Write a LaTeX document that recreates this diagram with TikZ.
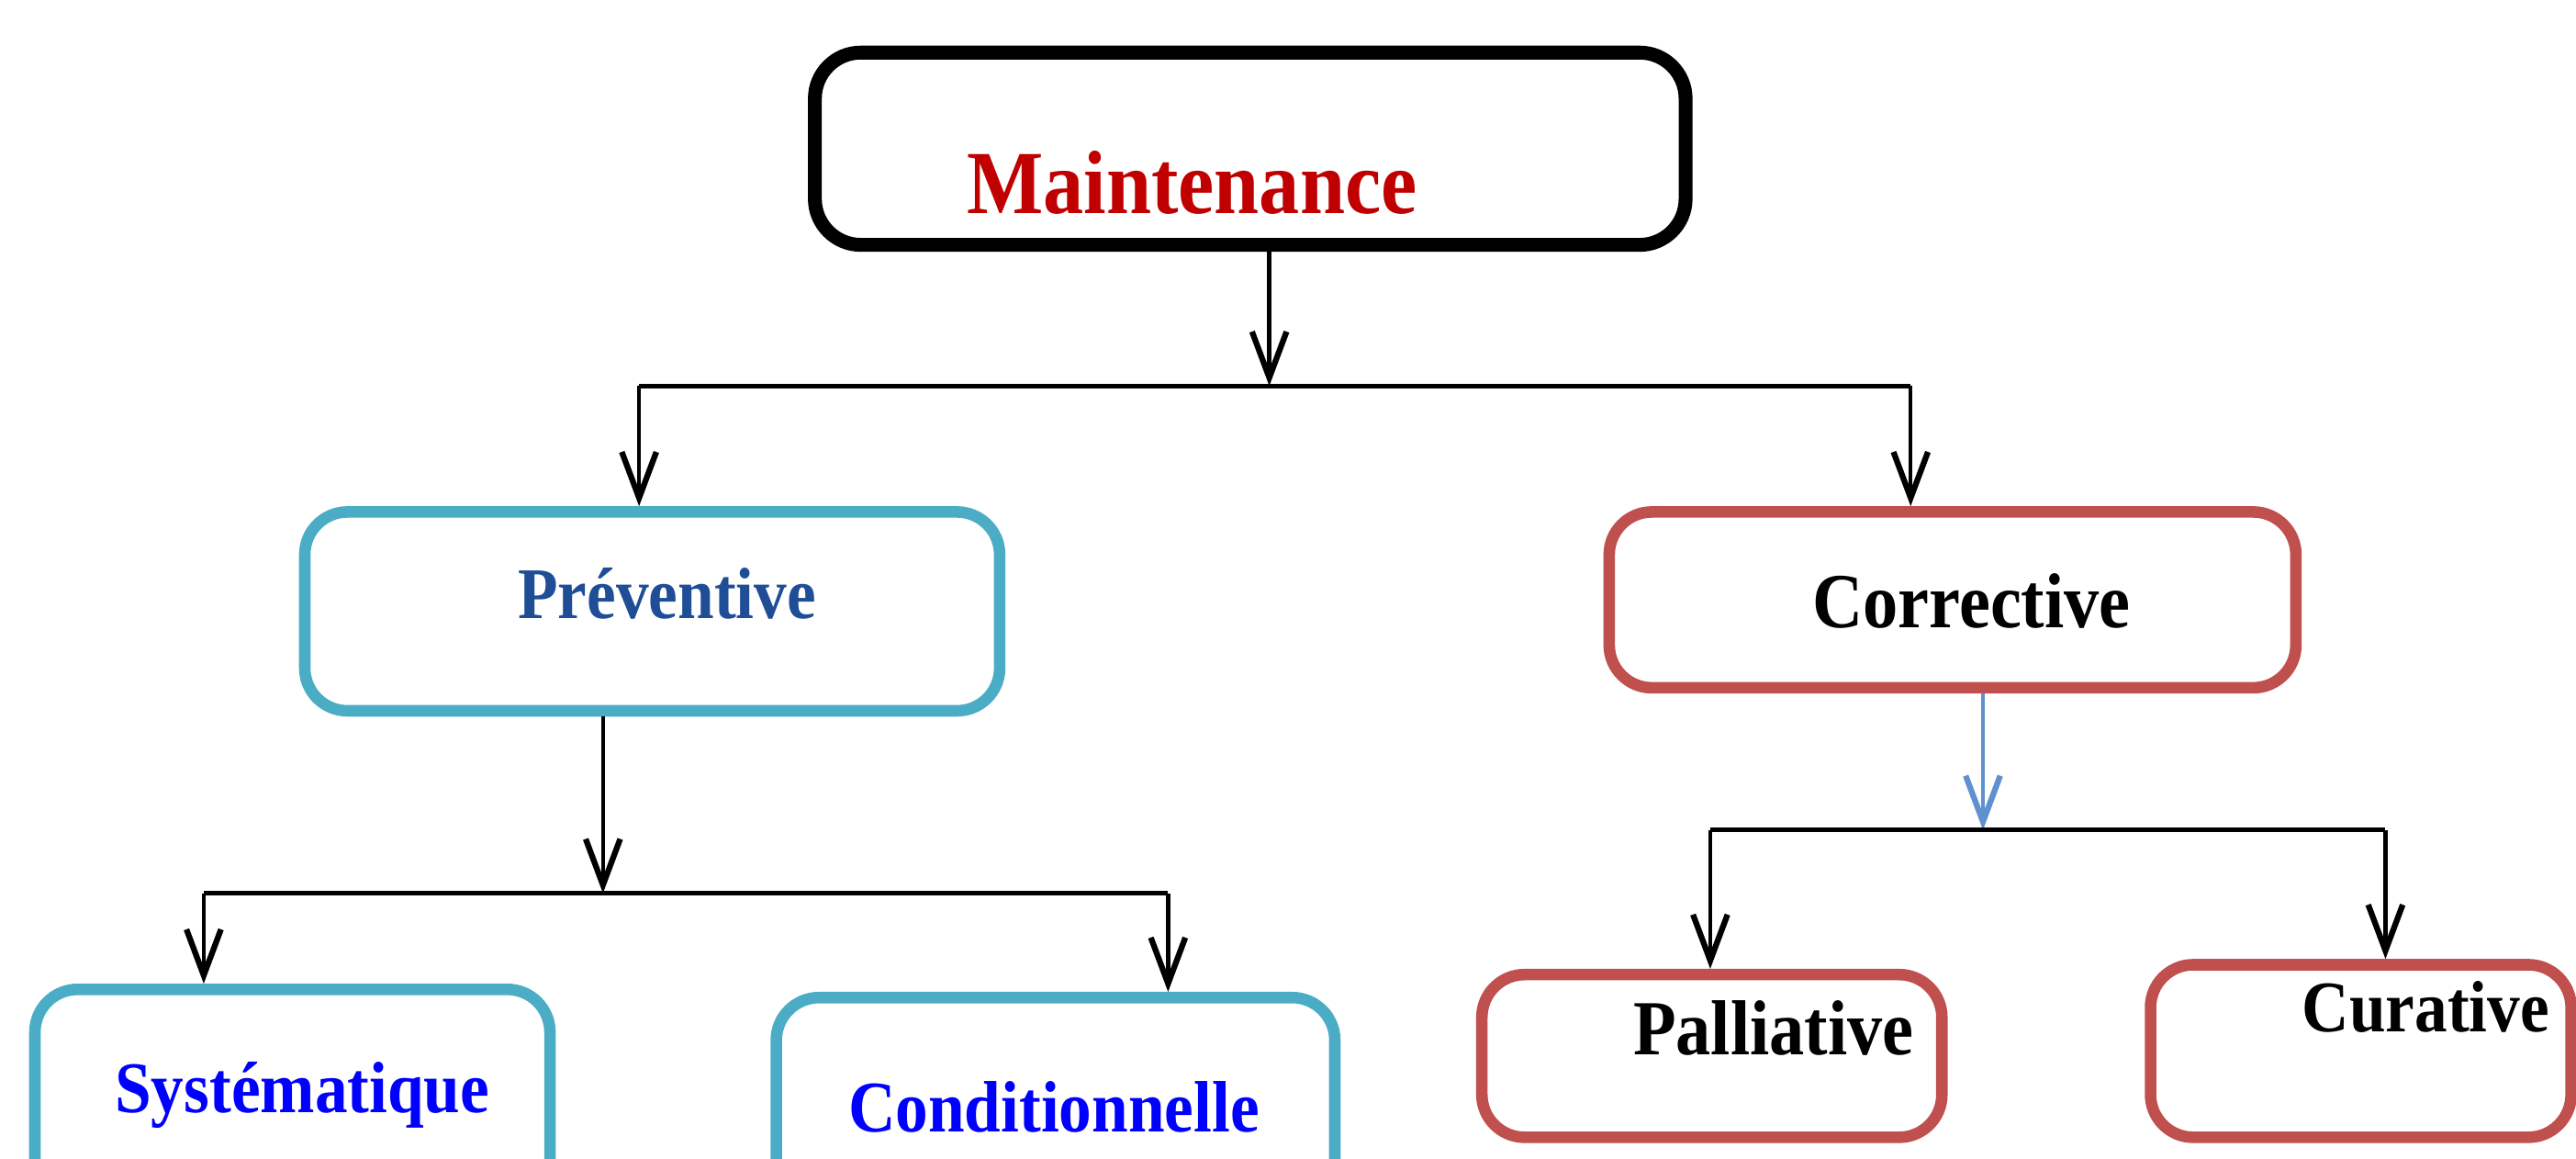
\documentclass[tikz,border=0pt]{standalone}
\usepackage{fontspec}
\setmainfont[FakeStretch=0.9]{Liberation Serif}
\usetikzlibrary{arrows.meta}

\definecolor{mred}{HTML}{C00000}
\definecolor{pblue}{HTML}{1F4E96}
\definecolor{cyanb}{HTML}{4BACC6}
\definecolor{redb}{HTML}{C0504D}
\definecolor{connb}{HTML}{6090CF}

\begin{document}
\begin{tikzpicture}[
  mainbox/.style={draw=black, line width=2.4pt, rounded corners=2.8mm, inner sep=0pt},
  bluebox/.style={draw=cyanb, line width=2pt, rounded corners=2.6mm, inner sep=0pt},
  redbox/.style={draw=redb, line width=2pt, rounded corners=2.6mm, inner sep=0pt},
  lbl/.style={anchor=base, inner sep=0pt},
  bus/.style={line width=0.8pt},
  arr/.style={line width=0.7pt, -{Straight Barb[length=2.8mm,width=2.1mm,line width=1pt]}}
]
\clip (0,0) rectangle (15.68,-7.05);

\node[mainbox, minimum width=5.3cm, minimum height=1.17cm] (mnt) at (7.61,-0.905) {};
\node[lbl, mred, font=\bfseries\fontsize{15.6}{18}\selectfont] (tmnt) at (7.255,-1.3) {Maintenance};

\node[bluebox, minimum width=4.23cm, minimum height=1.21cm] (prev) at (3.97,-3.72) {};
\node[lbl, pblue, font=\bfseries\fontsize{12.6}{15}\selectfont] (tprev) at (4.06,-3.766) {Préventive};
\node[redbox, minimum width=4.18cm, minimum height=1.07cm] (corr) at (11.885,-3.65) {};
\node[lbl, font=\bfseries\fontsize{13.5}{16}\selectfont] (tcorr) at (12.00,-3.82) {Corrective};

\node[bluebox, minimum width=3.135cm, minimum height=1.33cm] (sys) at (1.78,-6.685) {};
\node[lbl, blue, font=\bfseries\fontsize{12.6}{15}\selectfont] (tsys) at (1.84,-6.77) {Systématique};
\node[bluebox, minimum width=3.4cm, minimum height=1.28cm] (cond) at (6.425,-6.71) {};
\node[lbl, blue, font=\bfseries\fontsize{12.6}{15}\selectfont] (tcond) at (6.415,-6.886) {Conditionnelle};

\node[redbox, minimum width=2.8cm, minimum height=0.99cm] (pall) at (10.42,-6.425) {};
\node[lbl, font=\bfseries\fontsize{13.5}{16}\selectfont] (tpall) at (10.795,-6.417) {Palliative};
\node[redbox, minimum width=2.56cm, minimum height=1.05cm] (cur) at (14.37,-6.395) {};
\node[lbl, font=\bfseries\fontsize{12.6}{15}\selectfont] (tcur) at (14.765,-6.28) {Curative};

\coordinate (b1l) at (3.89,-2.348);
\coordinate (b1m) at (7.726,-2.348);
\coordinate (b1r) at (11.63,-2.348);
\draw[arr] (mnt.south -| b1m) -- (b1m);
\draw[bus] (b1l) -- (b1r);
\draw[arr] (b1l) -- (prev.north -| b1l);
\draw[arr] (b1r) -- (corr.north -| b1r);

\coordinate (b2l) at (1.24,-5.435);
\coordinate (b2m) at (3.67,-5.435);
\coordinate (b2r) at (7.11,-5.435);
\draw[arr] (prev.south -| b2m) -- (b2m);
\draw[bus] (b2l) -- (b2r);
\draw[arr] (b2l) -- (sys.north -| b2l);
\draw[arr] (b2r) -- (cond.north -| b2r);

\coordinate (b3l) at (10.41,-5.05);
\coordinate (b3m) at (12.07,-5.05);
\coordinate (b3r) at (14.52,-5.05);
\draw[arr, connb] (corr.south -| b3m) -- (b3m);
\draw[bus] (b3l) -- (b3r);
\draw[arr] (b3l) -- (pall.north -| b3l);
\draw[arr] (b3r) -- (cur.north -| b3r);
\end{tikzpicture}
\end{document}
